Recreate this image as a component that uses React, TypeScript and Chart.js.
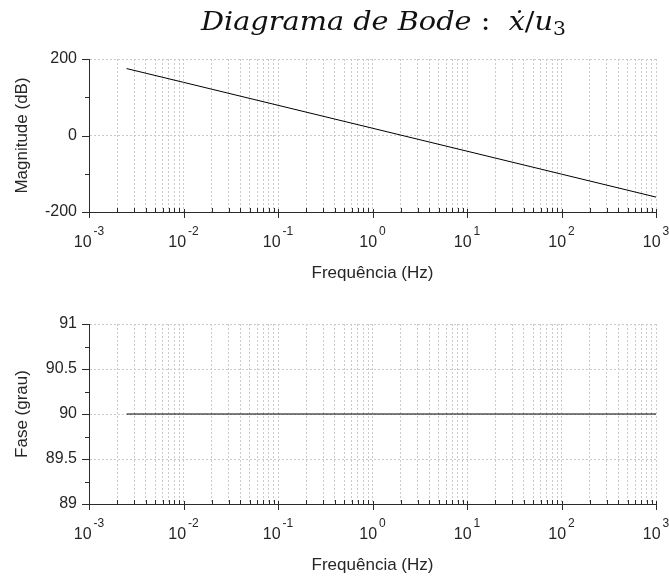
import React, { useEffect, useRef } from "react";
import { Chart, registerables } from "chart.js";
Chart.register(...registerables);

// ---- data ----
const freqMag = [0.0025, 0.01, 0.1, 1, 10, 100, 1000];
const magnitudeDb = [175, 139, 79, 19, -41, -101, -161];
const freqPhase = [0.0025, 0.01, 0.1, 1, 10, 100, 1000];
const phaseDeg = [90, 90, 90, 90, 90, 90, 90];

const xDecades = [-3, -2, -1, 0, 1, 2, 3];
const magMajorTicks = [-200, 0, 200];
const magMajorLabels = ["-200", "0", "200"];
const magMinorTicks = [-100, 100];
const phaseMajorTicks = [89, 89.5, 90, 90.5, 91];
const phaseMajorLabels = ["89", "89.5", "90", "90.5", "91"];
const phaseMinorTicks = [89.25, 89.75, 90.25, 90.75];

const xAxisTitle = "Frequência (Hz)";
const magAxisTitle = "Magnitude (dB)";
const phaseAxisTitle = "Fase (grau)";

const SANS = "'Liberation Sans', Arial, sans-serif";
const SERIF = "'DejaVu Serif', 'Liberation Serif', serif";
const AXIS = "#2a2a2a";
const TEXT = "#262626";
const GRID = "#cacaca";

function allLogTicks(): number[] {
  const out: number[] = [];
  for (let i = 0; i < xDecades.length - 1; i++) {
    const base = Math.pow(10, xDecades[i]);
    for (let m = 1; m <= 9; m++) out.push(+(m * base).toPrecision(3));
  }
  out.push(Math.pow(10, xDecades[xDecades.length - 1]));
  return out;
}

type Cfg = {
  xs: number[];
  ys: number[];
  yMin: number;
  yMax: number;
  major: number[];
  majorLabels: string[];
  minor: number[];
  yTitle: string;
  height: number;
  padTop: number;
  xHeight: number;
  title?: boolean;
};

function drawTitle(chart: any) {
  const ctx = chart.ctx as CanvasRenderingContext2D;
  const size = 24;
  const parts: { t: string; f: string; dy?: number }[] = [
    { t: "Diagrama de Bode", f: `italic ${size}px ${SERIF}` },
    { t: " :  ", f: `${size}px ${SERIF}` },
    { t: "ẋ", f: `italic ${size}px ${SERIF}` },
    { t: "/", f: `${size}px ${SERIF}` },
    { t: "u", f: `italic ${size}px ${SERIF}` },
    { t: "3", f: `${Math.round(size * 0.7)}px ${SERIF}`, dy: 5 },
  ];
  let total = 0;
  const widths = parts.map((p) => {
    ctx.font = p.f;
    const w = ctx.measureText(p.t).width;
    total += w;
    return w;
  });
  const targetLeft = 201;
  const targetRight = 566;
  const sx = (targetRight - targetLeft) / total;
  const y = 30;
  ctx.save();
  ctx.fillStyle = "#111";
  ctx.textBaseline = "alphabetic";
  ctx.textAlign = "left";
  ctx.translate(targetLeft, 0);
  ctx.scale(sx, 1.08);
  let x = 0;
  parts.forEach((p, i) => {
    ctx.font = p.f;
    ctx.fillText(p.t, x, (y + (p.dy || 0)) / 1.08);
    x += widths[i];
  });
  ctx.restore();
}

function makePlugin(cfg: Cfg) {
  return {
    id: "bodeAxes",
    afterDraw(chart: any) {
      const ctx = chart.ctx as CanvasRenderingContext2D;
      const xs = chart.scales.x;
      const ys = chart.scales.y;
      const area = chart.chartArea;
      ctx.save();
      ctx.strokeStyle = AXIS;
      ctx.lineWidth = 1;
      cfg.major.forEach((v) => {
        const py = Math.round(ys.getPixelForValue(v)) + 0.5;
        ctx.beginPath();
        ctx.moveTo(area.left - 7, py);
        ctx.lineTo(area.left, py);
        ctx.stroke();
      });
      cfg.minor.forEach((v) => {
        const py = Math.round(ys.getPixelForValue(v)) + 0.5;
        ctx.beginPath();
        ctx.moveTo(area.left - 4, py);
        ctx.lineTo(area.left, py);
        ctx.stroke();
      });
      allLogTicks().forEach((v) => {
        const px = Math.round(xs.getPixelForValue(v)) + 0.5;
        const isMajor = Math.abs(Math.log10(v) - Math.round(Math.log10(v))) < 1e-6;
        ctx.beginPath();
        if (isMajor) {
          ctx.moveTo(px, area.bottom - 3);
          ctx.lineTo(px, area.bottom + 6);
        } else {
          ctx.moveTo(px, area.bottom - 4);
          ctx.lineTo(px, area.bottom);
        }
        ctx.stroke();
      });
      ctx.restore();

      ctx.save();
      ctx.fillStyle = TEXT;
      ctx.font = `16px ${SANS}`;
      ctx.textAlign = "right";
      ctx.textBaseline = "middle";
      cfg.major.forEach((v, i) => {
        ctx.fillText(cfg.majorLabels[i], area.left - 12, ys.getPixelForValue(v));
      });
      ctx.textBaseline = "alphabetic";
      ctx.textAlign = "left";
      xDecades.forEach((d) => {
        const px = xs.getPixelForValue(Math.pow(10, d));
        ctx.font = `16px ${SANS}`;
        const wBase = ctx.measureText("10").width;
        ctx.font = `12px ${SANS}`;
        const exp = String(d);
        const wExp = ctx.measureText(exp).width;
        const start = px - (wBase + wExp + 2) / 2;
        ctx.font = `16px ${SANS}`;
        ctx.fillText("10", start, area.bottom + 35);
        ctx.font = `12px ${SANS}`;
        ctx.fillText(exp, start + wBase + 2, area.bottom + 23);
      });
      ctx.font = `17px ${SANS}`;
      ctx.textAlign = "center";
      ctx.fillText(xAxisTitle, (area.left + area.right) / 2, area.bottom + 66);
      ctx.translate(22, (area.top + area.bottom) / 2);
      ctx.rotate(-Math.PI / 2);
      ctx.textBaseline = "middle";
      ctx.fillText(cfg.yTitle, 0, 0);
      ctx.restore();

      if (cfg.title) drawTitle(chart);
    },
  };
}

function BodeChart({ cfg }: { cfg: Cfg }) {
  const ref = useRef<HTMLCanvasElement | null>(null);
  useEffect(() => {
    if (!ref.current) return;
    const chart = new Chart(ref.current, {
      type: "line",
      data: {
        datasets: [
          {
            data: cfg.xs.map((x, i) => ({ x, y: cfg.ys[i] })),
            borderColor: "#000",
            borderWidth: 1,
            pointRadius: 0,
            fill: false,
            tension: 0,
          },
        ],
      },
      options: {
        animation: false,
        responsive: false,
        devicePixelRatio: 1,
        layout: { padding: { top: cfg.padTop, right: 13, left: 0, bottom: 0 } },
        plugins: { legend: { display: false }, tooltip: { enabled: false }, title: { display: false } },
        scales: {
          x: {
            type: "logarithmic",
            min: 0.001,
            max: 1000,
            afterBuildTicks: (s: any) => {
              s.ticks = allLogTicks().map((v) => ({ value: v }));
            },
            afterFit: (s: any) => {
              s.height = cfg.xHeight;
            },
            ticks: { display: false },
            grid: { color: GRID, drawTicks: false, lineWidth: 1 },
            border: { display: true, color: AXIS, width: 1, dash: [2, 2] },
          },
          y: {
            type: "linear",
            min: cfg.yMin,
            max: cfg.yMax,
            afterBuildTicks: (s: any) => {
              s.ticks = cfg.major.map((v) => ({ value: v }));
            },
            afterFit: (s: any) => {
              s.width = 89;
            },
            ticks: { display: false },
            grid: { color: GRID, drawTicks: false, lineWidth: 1 },
            border: { display: true, color: AXIS, width: 1, dash: [2, 2] },
          },
        },
      } as any,
      plugins: [makePlugin(cfg)],
    });
    return () => chart.destroy();
  }, [cfg]);
  return (
    <canvas
      ref={ref}
      width={669}
      height={cfg.height}
      style={{ display: "block", width: 669, height: cfg.height }}
    />
  );
}

const topCfg: Cfg = {
  xs: freqMag,
  ys: magnitudeDb,
  yMin: -200,
  yMax: 200,
  major: magMajorTicks,
  majorLabels: magMajorLabels,
  minor: magMinorTicks,
  yTitle: magAxisTitle,
  height: 290,
  padTop: 59,
  xHeight: 78,
  title: true,
};
const bottomCfg: Cfg = {
  xs: freqPhase,
  ys: phaseDeg,
  yMin: 89,
  yMax: 91,
  major: phaseMajorTicks,
  majorLabels: phaseMajorLabels,
  minor: phaseMinorTicks,
  yTitle: phaseAxisTitle,
  height: 287,
  padTop: 34,
  xHeight: 73,
};

export default function App() {
  return (
    <div style={{ position: "absolute", left: 0, top: 0, width: 669, height: 577, background: "#fff" }}>
      <BodeChart cfg={topCfg} />
      <BodeChart cfg={bottomCfg} />
    </div>
  );
}
